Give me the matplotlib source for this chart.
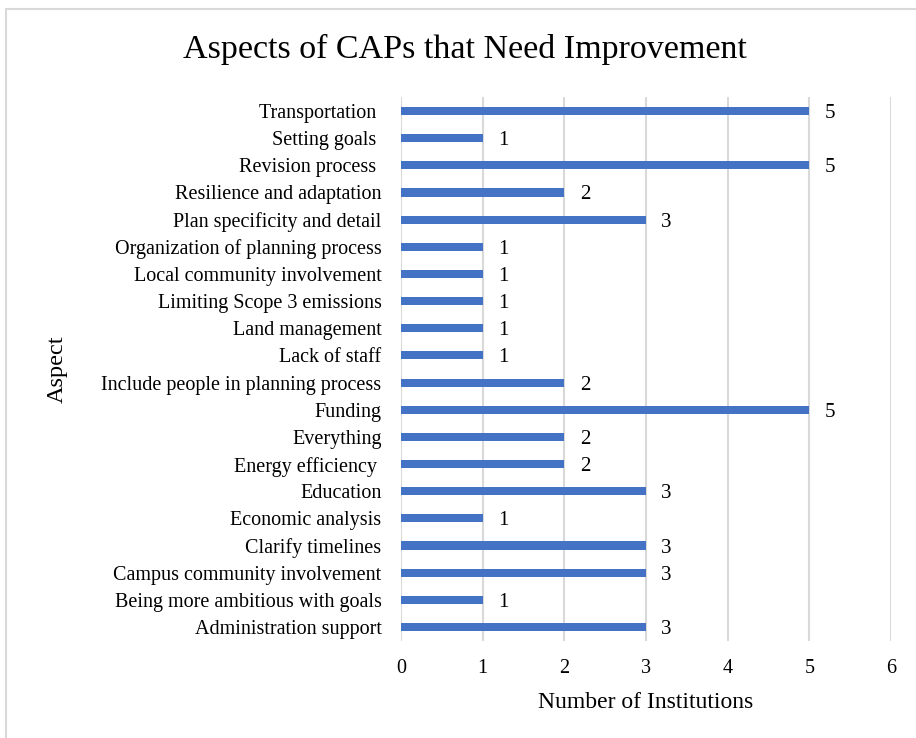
import numpy as np
import matplotlib
matplotlib.use("Agg")
from matplotlib import pyplot as plt
from matplotlib.patches import Rectangle

# Data, bottom to top as drawn by barh
aspects = ["Administration support", "Being more ambitious with goals",
           "Campus community involvement", "Clarify timelines", "Economic analysis",
           "Education", "Energy efficiency ", "Everything", "Funding",
           "Include people in planning process", "Lack of staff", "Land management",
           "Limiting Scope 3 emissions", "Local community involvement",
           "Organization of planning process", "Plan specificity and detail",
           "Resilience and adaptation", "Revision process ", "Setting goals ",
           "Transportation "]
counts = [3, 1, 3, 3, 1, 3, 2, 2, 5, 2, 1, 1, 1, 1, 1, 3, 2, 5, 1, 5]
x_ticks = [0, 1, 2, 3, 4, 5, 6]

plt.rcParams['font.family'] = ['Liberation Serif', 'DejaVu Serif']

fig = plt.figure(figsize=(9.16, 7.38), dpi=100)
ax = fig.add_axes([0.4378, 0.132, 0.5349, 0.736])

y = np.arange(len(aspects))
bars = ax.barh(y, counts, height=0.3, color="#4472C4", zorder=3)

for yi, v in zip(y, counts):
    ax.annotate(str(v), (v, yi), xytext=(11, 0), textcoords="offset points",
                va="center_baseline", ha="left", fontsize=15)

ax.set_xlim(0, 6)
ax.set_ylim(-0.5, len(aspects) - 0.5)
ax.set_xticks(x_ticks)
ax.set_yticks(y)
ax.set_yticklabels(aspects, fontsize=15)
ax.tick_params(axis="both", length=0, labelsize=14.5)
ax.tick_params(axis="y", pad=14)
ax.tick_params(axis="x", pad=13)
ax.grid(axis="x", color="#d9d9d9", linewidth=1.5, zorder=0)
for s in ax.spines.values():
    s.set_visible(False)

ax.set_xlabel("Number of Institutions", fontsize=17, labelpad=10)
fig.text(0.062, 0.5, "Aspect", rotation=90, ha="center", va="center", fontsize=17.5)
fig.text(0.508, 0.933, "Aspects of CAPs that Need Improvement", ha="center",
         va="center", fontsize=24.5)

# light border around the chart area
fig.patches.append(Rectangle((0.007, -0.01), 1.0, 0.998, transform=fig.transFigure,
                             fill=False, edgecolor="#d9d9d9", linewidth=1.5))

fig.savefig("out.png", dpi=100)
